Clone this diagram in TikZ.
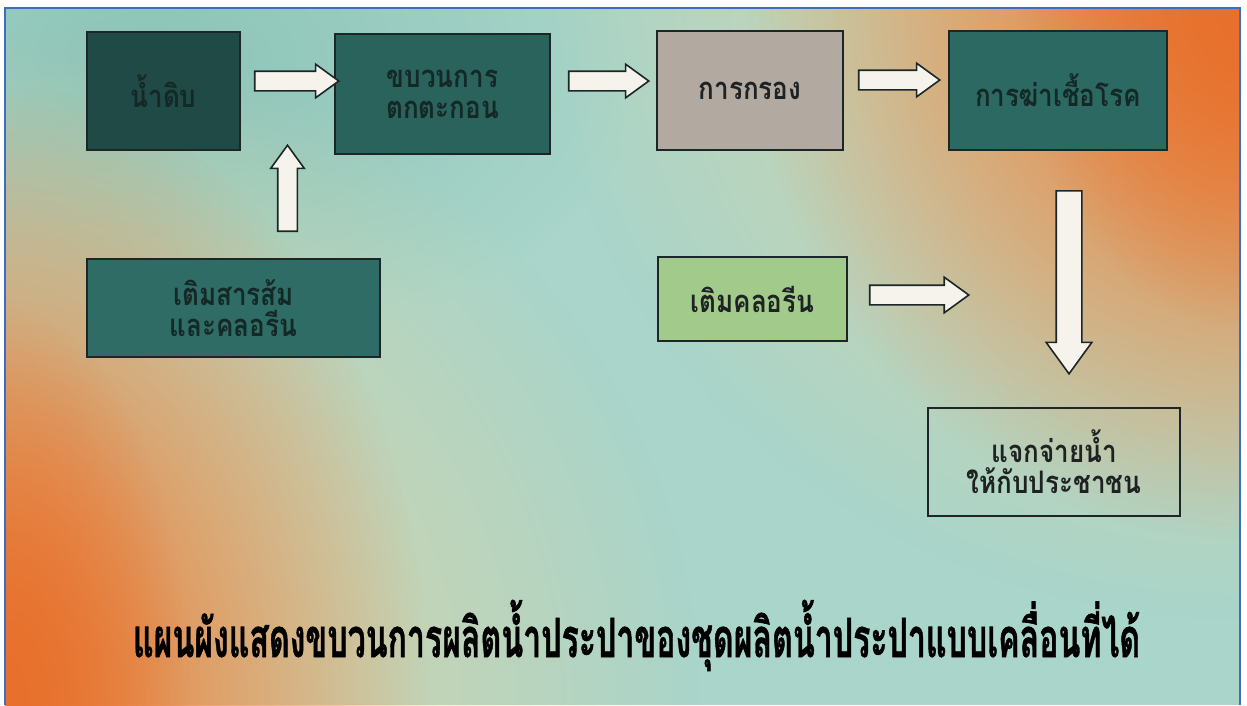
\documentclass[tikz,border=0pt]{standalone}
\usepackage{fontspec}
\usepackage{graphicx}
\newfontfamily\thai[Script=Thai]{Loma}
\newfontfamily\thaibox[Script=Thai,FakeStretch=0.84]{Loma}
\newfontfamily\thaicap[Script=Thai,FakeBold=1.2]{Loma}
\usetikzlibrary{shapes.arrows,fadings}

\tikzfading[name=softglow, inner color=transparent!0, outer color=transparent!100]

\definecolor{bgteal}{HTML}{A9D5CA}
\definecolor{tealtop}{HTML}{8CC4B8}
\definecolor{cream}{HTML}{E9D49C}
\definecolor{orng}{HTML}{E8702C}
\definecolor{blueline}{HTML}{3D6CC0}
\definecolor{boxline}{HTML}{1C2626}
\definecolor{darkteal}{HTML}{1F4A46}
\definecolor{midteal}{HTML}{2A625C}
\definecolor{greyfill}{HTML}{B2A9A1}
\definecolor{teal4}{HTML}{2B6962}
\definecolor{teal5}{HTML}{2F6C65}
\definecolor{lgreen}{HTML}{A2CB8B}
\definecolor{arrowfill}{HTML}{F5F3EC}
\definecolor{txtdark}{HTML}{142826}
\definecolor{txtblack}{HTML}{1E2222}

\tikzset{
  procbox/.style={draw=boxline, line width=2pt, rectangle, inner sep=0pt,
    align=center, font=\thaibox\bfseries\fontsize{31}{31}\selectfont, text=txtblack},
  blockarrow/.style={single arrow, draw=boxline, fill=arrowfill, line width=1.6pt,
    single arrow head indent=0pt, single arrow tip angle=72, inner sep=0pt, anchor=center},
}

\begin{document}
\begin{tikzpicture}[x=1pt,y=-1pt]
\useasboundingbox (0,0) rectangle (1247,705);
\fill[white] (0,0) rectangle (1247,705);
\begin{scope}
  \clip (5,8) rectangle (1240,705);
  \fill[bgteal] (5,8) rectangle (1240,705);
  \fill[tealtop, path fading=softglow] (150,60) ellipse (500 and 300);
  % bottom-left warm corner
  \fill[cream, path fading=softglow] (0,705) ellipse (700 and 680);
  \fill[orng, path fading=softglow] (0,705) ellipse (430 and 620);
  \fill[orng, path fading=softglow] (0,705) ellipse (190 and 400);
  % top-right warm corner
  \fill[cream, path fading=softglow] (1247,0) ellipse (700 and 620);
  \fill[orng, path fading=softglow] (1247,0) ellipse (500 and 540);
  \fill[orng, path fading=softglow] (1247,0) ellipse (230 and 330);
\end{scope}
\draw[blueline, line width=2.5pt] (5,705) -- (5,8) -- (1240,8) -- (1240,705);

% process boxes
\node[procbox, fill=darkteal, minimum width=153pt, minimum height=118pt, text=txtdark]
  (raw) at (163.5,91) {น้ำดิบ};
\node[procbox, fill=midteal, minimum width=215pt, minimum height=120pt, text=txtdark]
  (sed) at (442.5,94) {ขบวนการ\\ตกตะกอน};
\node[procbox, fill=greyfill, minimum width=186pt, minimum height=119pt]
  (filt) at (750,90.5) {การกรอง};
\node[procbox, fill=teal4, minimum width=218pt, minimum height=119pt, text=txtdark]
  (dis) at (1058,90.5) {การฆ่าเชื้อโรค};
\node[procbox, fill=teal5, minimum width=293pt, minimum height=98pt, text=txtdark]
  (alum) at (233.5,308) {เติมสารส้ม\\และคลอรีน};
\node[procbox, fill=lgreen, minimum width=189pt, minimum height=84pt]
  (chl) at (752.5,299) {เติมคลอรีน};
\node[procbox, minimum width=252pt, minimum height=108pt]
  (dist) at (1054,462) {แจกจ่ายน้ำ\\ให้กับประชาชน};

% block arrows
\node[blockarrow, minimum height=84pt, minimum width=32pt, single arrow head extend=7pt,
  inner sep=9pt] (a1) at (290,81) {};
\node[blockarrow, minimum height=80pt, minimum width=32pt, single arrow head extend=7pt,
  inner sep=9pt] (a2) at (602,81) {};
\node[blockarrow, minimum height=81pt, minimum width=33pt, single arrow head extend=7pt,
  inner sep=9pt] (a3) at (892.5,80) {};
\node[blockarrow, minimum height=86pt, minimum width=31pt, single arrow head extend=7pt,
  inner sep=9pt, shape border rotate=90] (a4) at (287.5,195) {};
\node[blockarrow, minimum height=99pt, minimum width=34pt, single arrow head extend=8pt,
  inner sep=9pt] (a5) at (912.5,295) {};
\node[blockarrow, minimum height=183pt, minimum width=44pt, single arrow head extend=10pt,
  inner sep=12pt, shape border rotate=270] (a6) at (1069,273.5) {};

% caption
\node[anchor=base, inner sep=0pt, text=black] (cap) at (636.5,657)
  {\resizebox{1007pt}{\height}{\thaicap\bfseries\fontsize{54}{60}\selectfont แผนผังแสดงขบวนการผลิตน้ำประปาของชุดผลิตน้ำประปาแบบเคลื่อนที่ได้}};
\end{tikzpicture}
\end{document}
